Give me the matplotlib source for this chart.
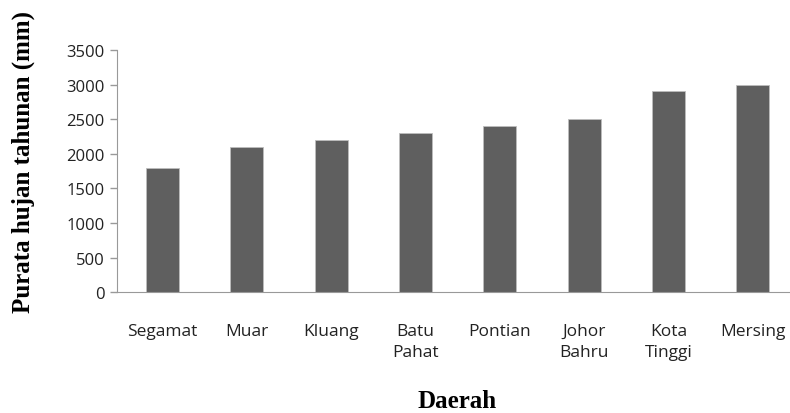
import matplotlib
matplotlib.use('Agg')
import matplotlib.pyplot as plt

daerah = ['Segamat', 'Muar', 'Kluang', 'Batu\nPahat', 'Pontian', 'Johor\nBahru', 'Kota\nTinggi', 'Mersing']
hujan = [1800, 2100, 2200, 2300, 2400, 2500, 2900, 3000]
yticks = [0, 500, 1000, 1500, 2000, 2500, 3000, 3500]

fig = plt.figure(figsize=(7.9, 4.14), dpi=100)
ax = fig.add_axes([0.148, 0.292, 0.852, 0.585])

x = range(len(daerah))
ax.bar(x, hujan, width=0.39, color='#5f5f5f', edgecolor='#bdbdbd', linewidth=0.6)

ax.set_xlim(-0.54, 7.44)
ax.set_ylim(0, 3500)
ax.set_yticks(yticks)
ax.set_yticklabels([str(v) for v in yticks], fontfamily='Open Sans', fontsize=12, color='#222222')
ax.set_xticks(list(x))
ax.set_xticklabels(daerah, fontfamily='Open Sans', fontsize=12.5, va='top', linespacing=1.45,
                   color='#222222')
ax.tick_params(axis='x', length=0, pad=22)
ax.tick_params(axis='y', length=5, color='#999999', width=1, pad=4)

for s in ['top', 'right']:
    ax.spines[s].set_visible(False)
ax.spines['left'].set_color('#999999')
ax.spines['bottom'].set_color('#999999')

fig.text(0.029, 0.609, 'Purata hujan tahunan (mm)', rotation=90, va='center', ha='center',
         fontfamily='Liberation Serif', fontweight='bold', fontsize=18)
fig.text(0.578, 0.029, 'Daerah', ha='center', va='center',
         fontfamily='Liberation Serif', fontweight='bold', fontsize=18)

fig.savefig('out.png', dpi=100)
